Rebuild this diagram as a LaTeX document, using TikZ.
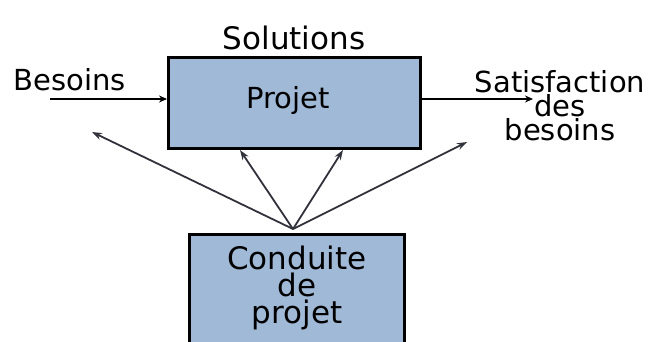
\documentclass[tikz,border=0pt]{standalone}
\usepackage{fontspec}
\setmainfont{DejaVu Sans}
\usetikzlibrary{arrows.meta}
\definecolor{boxblue}{RGB}{160,185,215}
\definecolor{arrowgray}{RGB}{50,50,60}
\begin{document}
\begin{tikzpicture}[x=1pt,y=-1pt,
  box/.style={draw=black,line width=3pt,fill=boxblue,inner sep=0pt,anchor=north west},
  lbl/.style={inner sep=0pt,align=center,text=black},
  flow/.style={line width=2.8pt,-{Stealth[length=8pt,width=7pt]}},
  ctrl/.style={draw=arrowgray,line width=1.8pt,-{Stealth[length=10pt,width=7pt]}}]
\useasboundingbox (0,0) rectangle (651,341);
\begin{scope}
\clip (0,0) rectangle (651,341);
\node[box,minimum width=252pt,minimum height=91pt] (projet) at (167,56) {};
\node[box,minimum width=215pt,minimum height=120pt] (conduite) at (188,233) {};
\end{scope}
\node[lbl,font=\fontsize{29}{29}\selectfont] (projettxt) at (288,100) {Projet};
\node[lbl,font=\fontsize{31}{27}\selectfont] (conduitetxt) at (297,288) {Conduite\\de\\projet};
\node[lbl,font=\fontsize{31}{31}\selectfont] (solutions) at (294,38) {Solutions};
\node[lbl,font=\fontsize{29}{29}\selectfont] (besoins) at (70,80) {Besoins};
\node[lbl,font=\fontsize{29}{24}\selectfont] (satis) at (560,106) {Satisfaction\\des\\besoins};
\coordinate (in) at (50,99);
\coordinate (out) at (533,99);
\coordinate (src) at (293,229);
\coordinate (tl) at (92,132);
\coordinate (tr) at (467,142);
\draw[flow] (in) -- (projet.west |- in);
\draw[flow] (projet.east |- out) -- (out);
\draw[ctrl] (src) -- (tl);
\draw[ctrl] (src) -- ([xshift=73pt]projet.south west);
\draw[ctrl] (src) -- ([xshift=-79pt]projet.south east);
\draw[ctrl] (src) -- (tr);
\end{tikzpicture}
\end{document}
